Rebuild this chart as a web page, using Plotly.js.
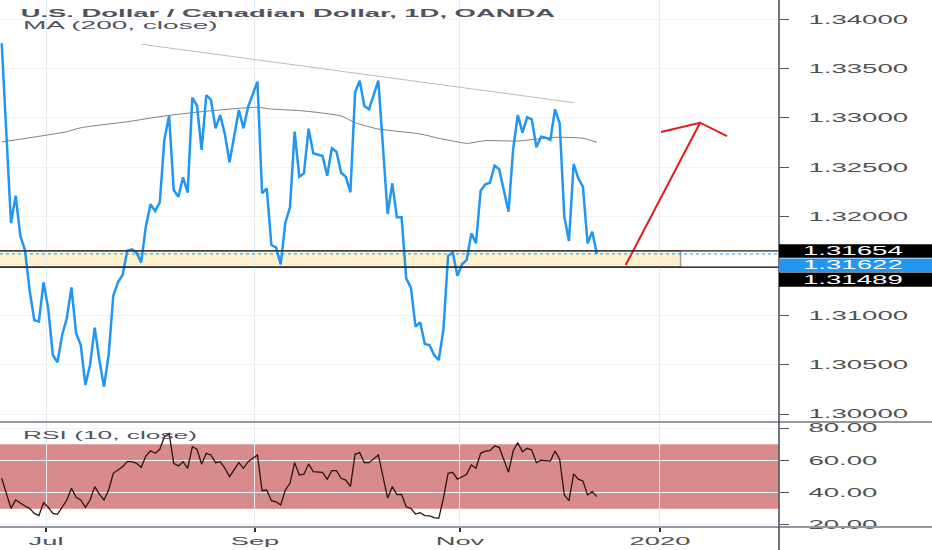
<!DOCTYPE html>
<html>
<head>
<meta charset="utf-8">
<script src="https://cdn.plot.ly/plotly-3.0.1.min.js"></script>
<style>
html,body{margin:0;padding:0;background:#ffffff;}
#chart{width:932px;height:550px;}
</style>
</head>
<body>
<div id="chart"></div>
<script>
// ---- Data (bar index = trading day counted from the first visible bar) ----
const priceX = [0,2,3,4,5,6,7,8,9,10,11,12,13,14,15,16,17,18,19,20,21,22,23,24,25,26,27,28,29,30,31,32,33,34,35,36,37,38,39,40,41,42,43,44,45,46,47,48,49,50,51,52,53,
  55,56,57,58,59,60,61,62,63,64,65,66,67,69,70,71,72,73,74,75,76,77,78,79,81,
  83,84,85,86,87,88,89,90,91,92,93,94,95,96,97,98,99,100,101,102,103,104,105,106,107,
  109,110,111,112,113,114,115,116,117,118,119,120,121,122,123,124,125,126,127,128];
const priceClose = [1.33757,1.31933,1.32212,1.31807,1.31662,1.31257,1.30953,1.30936,1.31335,1.31071,1.30598,1.30524,1.30801,1.30970,1.31284,1.30818,1.30699,1.30294,1.30497,1.30875,1.30547,1.30277,1.30598,1.31199,1.31335,1.31409,1.31655,1.31669,1.31635,1.31537,1.31898,1.32125,1.32057,1.32146,1.32787,1.33020,1.32270,1.32202,1.32399,1.32243,1.33206,1.33124,1.32676,1.33233,1.33182,1.32895,1.33030,1.32835,1.32551,1.32838,1.33081,1.32895,1.33114,
  1.33368,1.32237,1.32287,1.31713,1.31689,1.31517,1.31939,1.32095,1.32861,1.32405,1.32439,1.32891,1.32642,1.32615,1.32415,1.32693,1.32658,1.32445,1.32405,1.32247,1.33260,1.33378,1.33121,1.33088,1.33378,
  1.32027,1.32338,1.31993,1.31993,1.31375,1.31280,1.30885,1.30929,1.30710,1.30699,1.30598,1.30547,1.30858,1.31601,1.31639,1.31402,1.31517,1.31561,1.31831,1.31730,1.32263,1.32328,1.32344,1.32516,1.32480,
  1.32050,1.32686,1.33030,1.32851,1.33007,1.32987,1.32703,1.32810,1.32800,1.32777,1.33088,1.32946,1.32000,1.31753,1.32534,1.32389,1.32304,1.31730,1.31848,1.31622];

const maX = [0,14,17,27,35,43,51,55,58,65,73,76,81,84,90,94,97,100,104,111,119,125,128];
const ma200 = [1.32757,1.32861,1.32901,1.32962,1.33020,1.33064,1.33098,1.33108,1.33091,1.33071,1.33020,1.32952,1.32888,1.32871,1.32838,1.32794,1.32767,1.32743,1.32770,1.32767,1.32804,1.32794,1.32754];

const rsiX = [0,2,3,4,5,6,7,8,9,10,11,12,13,14,15,16,17,18,19,20,21,22,23,24,25,26,27,28,29,30,31,32,33,34,35,36,37,38,39,40,41,42,43,44,45,46,47,48,49,50,51,52,53,
  55,56,57,58,59,60,61,62,63,64,65,66,67,69,70,71,72,73,74,75,76,77,78,79,81,
  83,84,85,86,87,88,89,90,91,92,93,94,95,96,97,98,99,100,101,102,103,104,105,106,107,
  109,110,111,112,113,114,115,116,118,119,120,121,122,123,124,125,126,127,128];
const rsi10 = [48.9,30.2,35.4,33.4,31.7,30.2,27.1,25.7,33.7,30.9,27.1,26.5,30.9,35.4,42.7,37.1,35.4,30.9,35.4,43.7,39.1,35.4,41.6,52.0,54.0,56.1,59.2,59.2,58.2,55.7,62.7,66.0,64.4,66.9,74.7,76.8,58.2,56.5,59.2,55.1,68.5,66.9,57.6,64.4,63.4,58.6,59.2,55.1,49.9,54.5,58.6,55.1,59.2,
  63.4,41.2,41.6,35.0,34.3,32.3,41.6,45.8,58.6,50.9,51.4,57.8,53.0,52.6,48.3,53.6,53.6,48.9,47.8,43.7,63.8,64.8,58.6,58.6,63.4,
  36.6,43.7,38.8,38.9,31.2,30.2,26.7,27.5,25.7,25.5,24.4,24.0,36.5,52.0,52.6,48.3,49.9,51.4,57.1,55.1,64.4,65.8,66.0,68.9,68.1,
  52.6,66.0,71.0,65.4,67.5,66.5,58.6,60.2,59.6,65.8,60.7,38.5,35.0,51.6,48.3,47.2,38.5,40.6,37.5];

const trendX = [30.1, 123.1];
const trendY = [1.33747, 1.33155];
const arrowX = [134.2, 150.2, null, 141.8, 150.2, 156.0];
const arrowY = [1.3151, 1.32952, null, 1.32858, 1.32952, 1.32817];
const zoneX = [-1, 146.0];
const levelTop = 1.31654;
const levelLast = 1.31622;
const levelBottom = 1.31489;
const rsiBand = [30, 70];

const monthTickX = [9.53, 54.47, 98.56, 141.57];
const monthTickText = ['Jul', 'Sep', 'Nov', '2020'];
const priceTicks = [1.30, 1.305, 1.31, 1.32, 1.325, 1.33, 1.335, 1.34];
const rsiTicks = [20, 40, 60, 80];

const titleText = 'U.S. Dollar / Canadian Dollar, 1D, OANDA';
const maLabel = 'MA (200, close)';
const rsiLabel = 'RSI (10, close)';

// ---- Chart ----
const FONT = 'Liberation Sans, Arial, sans-serif';
const split = 105 / 527;
const AX = '#505050';

const data = [
  {x: trendX, y: trendY, xaxis:'x', yaxis:'y', mode:'lines', line:{color:'#bdbdbd', width:1}, hoverinfo:'skip'},
  {x: maX, y: ma200, xaxis:'x', yaxis:'y', mode:'lines', line:{color:'#808080', width:1, shape:'spline', smoothing:0.6}, hoverinfo:'skip'},
  {x: priceX, y: priceClose, xaxis:'x', yaxis:'y', mode:'lines', line:{color:'#2196f3', width:2.5}},
  {x: arrowX, y: arrowY, xaxis:'x', yaxis:'y', mode:'lines', line:{color:'#e3191c', width:2}, hoverinfo:'skip'},
  {x: rsiX, y: rsi10, xaxis:'x', yaxis:'y2', mode:'lines', line:{color:'#2a1515', width:1.3}}
];

const shapes = [
  {type:'rect', xref:'paper', x0:0, x1:1, yref:'y2', y0:rsiBand[0], y1:rsiBand[1], fillcolor:'#d98a8a', line:{width:0}, layer:'below'},
  {type:'rect', xref:'x', x0:zoneX[0], x1:zoneX[1], yref:'y', y0:levelBottom, y1:levelTop, fillcolor:'#fff1cc', line:{color:'#9e9e9e', width:1.5}, layer:'below'},
  {type:'line', xref:'paper', x0:0, x1:1, yref:'y', y0:levelLast, y1:levelLast, line:{color:'#2196f3', width:1, dash:'dot'}},
  {type:'line', xref:'paper', x0:0, x1:1, yref:'y', y0:levelTop, y1:levelTop, line:{color:'#202020', width:1.3}},
  {type:'line', xref:'paper', x0:0, x1:1, yref:'y', y0:levelBottom, y1:levelBottom, line:{color:'#000000', width:1.3}},
  {type:'line', xref:'paper', x0:0, x1:932/779, yref:'paper', y0:split, y1:split, line:{color:'#9598a1', width:2}},
  {type:'line', xref:'paper', x0:0, x1:932/779, yref:'paper', y0:0, y1:0, line:{color:'#9598a1', width:2}},
  {type:'line', xref:'paper', x0:1, x1:1, yref:'paper', y0:-23/527, y1:1, line:{color:'#50535e', width:1.6}},
  {type:'rect', xref:'paper', x0:1, x1:932/779, yref:'y', ysizemode:'pixel', yanchor:levelTop, y0:-7, y1:6.5, fillcolor:'#000000', line:{width:0}},
  {type:'rect', xref:'paper', x0:1, x1:932/779, yref:'y', ysizemode:'pixel', yanchor:levelLast, y0:-18, y1:-4.6, fillcolor:'#2196f3', line:{width:0}},
  {type:'rect', xref:'paper', x0:1, x1:932/779, yref:'y', ysizemode:'pixel', yanchor:levelBottom, y0:-19.6, y1:-5.5, fillcolor:'#000000', line:{width:0}}
];

const annotations = [
  {text: maLabel, xref:'paper', x:0, xshift:20.7, xanchor:'left', align:'left', yref:'paper', y:(527-25.3)/527, yanchor:'middle', showarrow:false, font:{family:FONT, size:10, color:'#50535e'}},
  {text: rsiLabel, xref:'paper', x:0, xshift:20.7, xanchor:'left', align:'left', yref:'paper', y:(527-435.5)/527, yanchor:'middle', showarrow:false, font:{family:FONT, size:10, color:'#50535e'}},
  {text: levelTop.toFixed(5), xref:'paper', x:1, xshift:22, xanchor:'left', align:'left', yref:'y', y:levelTop, yshift:0, yanchor:'middle', showarrow:false, font:{family:FONT, size:12, color:'#ffffff'}},
  {text: levelLast.toFixed(5), xref:'paper', x:1, xshift:22, xanchor:'left', align:'left', yref:'y', y:levelLast, yshift:-11.3, yanchor:'middle', showarrow:false, font:{family:FONT, size:12, color:'#ffffff'}},
  {text: levelBottom.toFixed(5), xref:'paper', x:1, xshift:22, xanchor:'left', align:'left', yref:'y', y:levelBottom, yshift:-12.5, yanchor:'middle', showarrow:false, font:{family:FONT, size:12, color:'#ffffff'}}
];

const layout = {
  width:932, height:550,
  margin:{l:0, r:153, t:0, b:23, pad:0},
  paper_bgcolor:'#ffffff', plot_bgcolor:'#ffffff',
  showlegend:false,
  font:{family:FONT, color:AX},
  title:{text:titleText, font:{family:FONT, size:10, color:'#50535e', weight:700}, x:20.7/932, xanchor:'left', y:1-13.3/550, yanchor:'middle'},
  xaxis:{range:[-0.366, 167.17], domain:[0,1], anchor:'y2', tickmode:'array', tickvals:monthTickX, ticktext:monthTickText,
         ticks:'outside', ticklen:4, tickwidth:1.5, tickcolor:'#333333', showgrid:true, gridcolor:'#e1ebf4', gridwidth:1,
         zeroline:false, showline:false, tickfont:{family:FONT, size:10.5, color:AX}},
  yaxis:{domain:[split,1], range:[1.299192, 1.341956], side:'right', anchor:'x', tickmode:'array', tickvals:priceTicks, tickformat:'.5f',
         ticks:'outside', ticklen:9, tickwidth:1, tickcolor:'#50535e', ticklabelstandoff:17, showgrid:true, gridcolor:'#f1f3f6', zeroline:false, showline:false,
         tickfont:{family:FONT, size:12, color:AX}},
  yaxis2:{domain:[0,split], range:[18.63, 83.85], side:'right', anchor:'x', tickmode:'array', tickvals:rsiTicks, tickformat:'.2f',
         ticks:'outside', ticklen:9, tickwidth:1, tickcolor:'#50535e', ticklabelstandoff:17, showgrid:true, gridcolor:'#f1f3f6', zeroline:false, showline:false,
         tickfont:{family:FONT, size:12, color:AX}},
  shapes: shapes,
  annotations: annotations
};

function stretch(el, s) {
  const w = el.getComputedTextLength();
  if (w > 0) {
    el.setAttribute('textLength', (w * s).toFixed(2));
    el.setAttribute('lengthAdjust', 'spacingAndGlyphs');
  }
}

Plotly.newPlot('chart', data, layout, {staticPlot:true, displayModeBar:false}).then(function(gd) {
  gd.querySelectorAll('.ytick text, .y2tick text').forEach(function(t){ stretch(t, 2.3); });
  gd.querySelectorAll('.xtick text').forEach(function(t){ stretch(t, 2.6); });
  gd.querySelectorAll('.gtitle').forEach(function(t){ stretch(t, 2.74); });
  gd.querySelectorAll('.annotation-text').forEach(function(t){
    const txt = t.textContent;
    const s = txt.indexOf('1.') === 0 ? 2.3 : (txt.indexOf('MA') === 0 ? 2.8 : 2.63);
    stretch(t, s);
  });
});
</script>
</body>
</html>
